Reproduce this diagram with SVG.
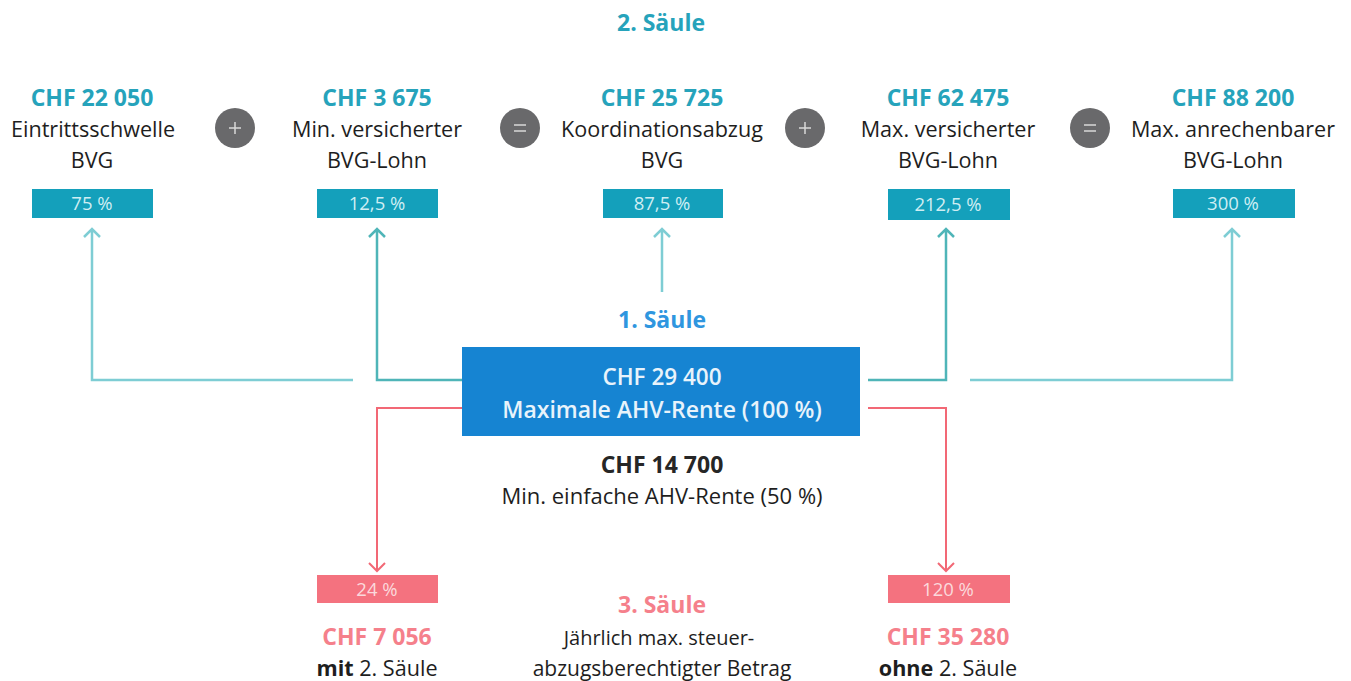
<svg xmlns="http://www.w3.org/2000/svg" width="1351" height="681" viewBox="0 0 1351 681">
<defs>
<style>
text{font-family:"Open Sans","Noto Sans","Liberation Sans",sans-serif;text-anchor:middle}
.h{font-size:23px;font-weight:700;fill:#26a3bb}
.t{font-size:21.6px;fill:#1e1e1e}
.pct{font-size:18.5px;fill:#cfeef3}
.box{fill:#14a0bb}
.rbox{fill:#f4727f}
.circ{fill:#69696b}
.sym{stroke:#d8d8d8;stroke-width:1.5;fill:none}
.cn{fill:none;stroke:#7ecdd4;stroke-width:2.5}
.cn2{fill:none;stroke:#4fb5b8;stroke-width:2.5}
.rc{fill:none;stroke:#f26875;stroke-width:2}
.rt{font-size:23px;font-weight:700;fill:#f5808b}
</style>
</defs>
<rect width="1351" height="681" fill="#ffffff"/>
<text class="h" x="661" y="31">2. Säule</text>

<g id="col1">
<text class="h" x="92" y="106">CHF 22 050</text>
<text class="t" x="93" y="137">Eintrittsschwelle</text>
<text class="t" x="92" y="168">BVG</text>
<rect class="box" x="32" y="189" width="121" height="29"/>
<text class="pct" x="92" y="210">75 %</text>
</g>
<g id="op1"><circle class="circ" cx="235" cy="128" r="20"/><path class="sym" d="M229 128h12M235 122v12"/></g>
<g id="col2">
<text class="h" x="377" y="106">CHF 3 675</text>
<text class="t" x="377" y="137">Min. versicherter</text>
<text class="t" x="377" y="168">BVG-Lohn</text>
<rect class="box" x="317" y="189" width="121" height="29"/>
<text class="pct" x="377" y="210">12,5 %</text>
</g>
<g id="op2"><circle class="circ" cx="520" cy="128" r="20"/><path class="sym" d="M514 125h12M514 131h12"/></g>
<g id="col3">
<text class="h" x="662" y="106">CHF 25 725</text>
<text class="t" x="662" y="137">Koordinationsabzug</text>
<text class="t" x="662" y="168">BVG</text>
<rect class="box" x="603" y="189" width="120" height="29"/>
<text class="pct" x="662" y="210">87,5 %</text>
</g>
<g id="op3"><circle class="circ" cx="805" cy="128" r="20"/><path class="sym" d="M799 128h12M805 122v12"/></g>
<g id="col4">
<text class="h" x="948" y="106">CHF 62 475</text>
<text class="t" x="948" y="137">Max. versicherter</text>
<text class="t" x="948" y="168">BVG-Lohn</text>
<rect class="box" x="888" y="189" width="122" height="31"/>
<text class="pct" x="948" y="211">212,5 %</text>
</g>
<g id="op4"><circle class="circ" cx="1090" cy="128" r="20"/><path class="sym" d="M1084 125h12M1084 131h12"/></g>
<g id="col5">
<text class="h" x="1233" y="106">CHF 88 200</text>
<text class="t" x="1233" y="137">Max. anrechenbarer</text>
<text class="t" x="1233" y="168">BVG-Lohn</text>
<rect class="box" x="1173" y="189" width="122" height="29"/>
<text class="pct" x="1233" y="210">300 %</text>
</g>

<g id="connectors">
<path class="cn" d="M353 380H92V229M84 237l8-8 8 8"/>
<path class="cn2" d="M462 380H377V229M369 237l8-8 8 8"/>
<path class="cn" d="M662 292V229M654 237l8-8 8 8"/>
<path class="cn2" d="M868 380H946V229M938 237l8-8 8 8"/>
<path class="cn" d="M970 380H1232V229M1224 237l8-8 8 8"/>
<path class="rc" d="M462 408H377V571M369 563l8 8 8-8"/>
<path class="rc" d="M868 408H946V571M938 563l8 8 8-8"/>
</g>

<g id="ahv">
<text x="662" y="328" style="font-size:23px;font-weight:700;fill:#2f96df">1. Säule</text>
<rect x="462" y="347" width="398" height="89" fill="#1684d2"/>
<text x="662" y="385" style="font-size:22.5px;font-weight:600;fill:#e8f3fb">CHF 29 400</text>
<text x="662" y="418" style="font-size:23px;font-weight:600;fill:#e8f3fb">Maximale AHV-Rente (100 %)</text>
<text x="662" y="473" style="font-size:23px;font-weight:700;fill:#262626">CHF 14 700</text>
<text x="662" y="504" class="t" style="font-size:22px">Min. einfache AHV-Rente (50 %)</text>
</g>

<g id="mit">
<rect class="rbox" x="317" y="575" width="121" height="28"/>
<text class="pct" x="377" y="596" style="fill:#fbd9dc">24 %</text>
<text class="rt" x="377" y="645">CHF 7 056</text>
<text class="t" x="377" y="676"><tspan font-weight="700">mit</tspan> 2. Säule</text>
</g>
<g id="drei">
<text class="rt" x="662" y="613">3. Säule</text>
<text class="t" x="659" y="645" style="font-size:20px">Jährlich max. steuer-</text>
<text class="t" x="662" y="676" style="font-size:21px">abzugsberechtigter Betrag</text>
</g>
<g id="ohne">
<rect class="rbox" x="888" y="575" width="122" height="28"/>
<text class="pct" x="948" y="596" style="fill:#fbd9dc">120 %</text>
<text class="rt" x="948" y="645">CHF 35 280</text>
<text class="t" x="948" y="676"><tspan font-weight="700">ohne</tspan> 2. Säule</text>
</g>
</svg>
